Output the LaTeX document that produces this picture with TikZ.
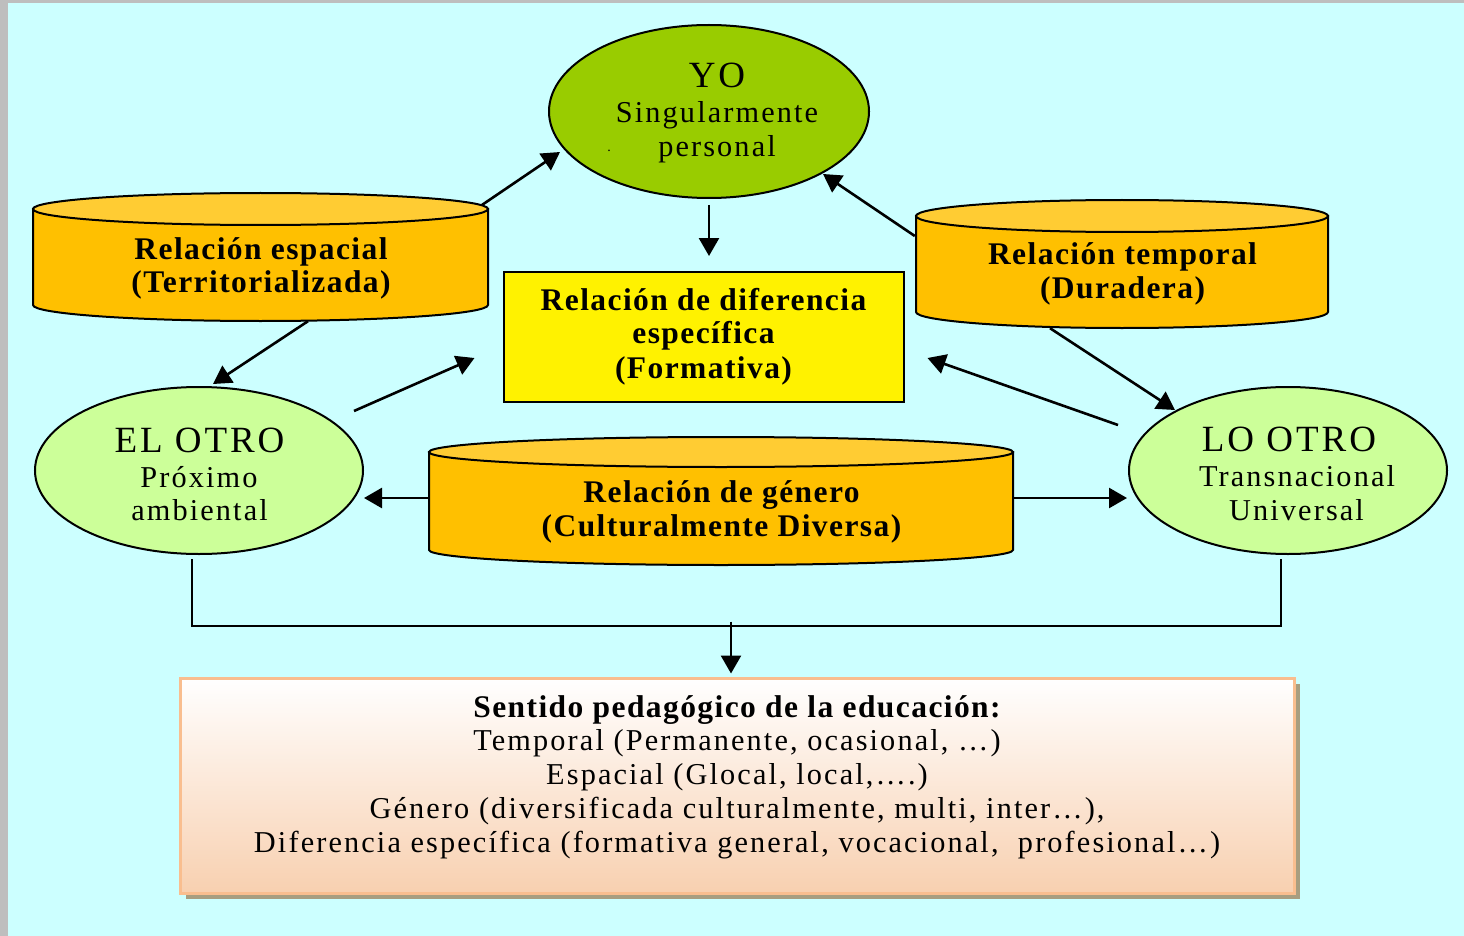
\documentclass[tikz,border=0pt]{standalone}
\usepackage{fontspec}
\setmainfont{Liberation Serif}[LetterSpace=7]
\newfontfamily\boldfam{Liberation Serif}[LetterSpace=4.5]
\newfontfamily\titlefam{Liberation Serif}[LetterSpace=8]
\usetikzlibrary{arrows.meta,calc,shapes.geometric}
\definecolor{bgcyan}{RGB}{204,255,255}
\definecolor{bggray}{RGB}{190,190,190}
\definecolor{yogreen}{RGB}{153,204,0}
\definecolor{otrogreen}{RGB}{204,255,153}
\definecolor{cylbody}{RGB}{255,192,0}
\definecolor{cyltop}{RGB}{255,204,51}
\definecolor{boxborder}{RGB}{249,190,143}
\definecolor{boxbottom}{RGB}{248,208,176}
\definecolor{boxshadow}{RGB}{168,158,128}
\tikzset{
  conn/.style={line width=2.6pt,-{Triangle[length=18pt,width=20pt]}},
  plainline/.style={line width=2.6pt},
  ell/.style={ellipse,draw=black,line width=2pt,inner sep=0pt},
  cylshape/.style={draw=black,line width=2pt,fill=cylbody},
  cylcap/.style={draw=black,line width=2pt,fill=cyltop},
  frame/.style={inner sep=0pt,minimum width=#1},
  bigtxt/.style={anchor=base,inner sep=0pt,font=\titlefam\fontsize{37}{37}\selectfont},
  txt/.style={anchor=base,inner sep=0pt,font=\fontsize{30.3}{34}\selectfont},
  btxt/.style={anchor=base,inner sep=0pt,font=\boldfam\bfseries\fontsize{31.5}{34}\selectfont},
}
\begin{document}
\begin{tikzpicture}[x=1pt,y=-1pt]
\useasboundingbox (0,0) rectangle (1464,936);
% background
\fill[bggray] (0,0) rectangle (1464,936);
\fill[bgcyan] (8,3) rectangle (1464,936);

% YO ellipse
\node[ell,fill=yogreen,minimum width=320pt,minimum height=173pt] (yo) at (709,111.5) {};
\node[bigtxt] (yoT) at (717,88) {YO};
\node[txt] (yoA) at (717,123) {Singularmente};
\node[txt] (yoB) at (717,157) {personal};
\node[anchor=base,inner sep=0pt,font=\fontsize{14}{14}\selectfont] (yoDot) at (609,152) {.};

% spatial cylinder
\filldraw[cylshape] (33,209) -- (33,305) arc[start angle=180,end angle=360,x radius=227.5pt,y radius=16pt] -- (488,209) -- cycle;
\filldraw[cylcap] (260.5,209) ellipse[x radius=227.5pt,y radius=16pt];
\node[frame=455pt,minimum height=128pt] (spat) at (260.5,257) {};
\node[btxt] (spatA) at (261,259) {Relación espacial};
\node[btxt] (spatB) at (261,292) {(Territorializada)};

% temporal cylinder
\filldraw[cylshape] (916,216) -- (916,312) arc[start angle=180,end angle=360,x radius=206pt,y radius=16pt] -- (1328,216) -- cycle;
\filldraw[cylcap] (1122,216) ellipse[x radius=206pt,y radius=16pt];
\node[frame=412pt,minimum height=128pt] (temp) at (1122,264) {};
\node[btxt] (tempA) at (1122.5,264) {Relación temporal};
\node[btxt] (tempB) at (1122.5,298) {(Duradera)};

% diferencia box
\node[draw=black,line width=2pt,fill=yellow,minimum width=400pt,minimum height=130pt,inner sep=0pt] (diff) at (703.5,337) {};
\node[btxt] (diffA) at (703.5,310) {Relación de diferencia};
\node[btxt] (diffB) at (703.5,343) {específica};
\node[btxt] (diffC) at (703.5,378) {(Formativa)};

% EL OTRO
\node[ell,fill=otrogreen,minimum width=328pt,minimum height=167pt] (elotro) at (199,470.5) {};
\node[bigtxt] (elT) at (199.5,452) {EL OTRO};
\node[txt] (elA) at (199,487) {Próximo};
\node[txt] (elB) at (199.5,520) {ambiental};

% LO OTRO
\node[ell,fill=otrogreen,minimum width=318pt,minimum height=167pt] (lootro) at (1288,470.5) {};
\node[bigtxt] (loT) at (1289,451) {LO OTRO};
\node[txt] (loA) at (1297,486) {Transnacional};
\node[txt] (loB) at (1296.5,520) {Universal};

% genero cylinder
\filldraw[cylshape] (429,452) -- (429,550) arc[start angle=180,end angle=360,x radius=292pt,y radius=15pt] -- (1013,452) -- cycle;
\filldraw[cylcap] (721,452) ellipse[x radius=292pt,y radius=15pt];
\node[frame=584pt,minimum height=128pt] (gen) at (721,501) {};
\node[btxt] (genA) at (721.5,502) {Relación de género};
\node[btxt] (genB) at (721.5,536) {(Culturalmente Diversa)};

% bottom box
\fill[boxshadow] (186,684) rectangle (1300,899);
\node[draw=boxborder,line width=3pt,top color=white,bottom color=boxbottom,minimum width=1114pt,minimum height=215pt,inner sep=0pt] (box) at (737,785.5) {};
\node[btxt] (boxA) at (737,717) {Sentido pedagógico de la educación:};
\node[txt] (boxB) at (737,750) {Temporal (Permanente, ocasional, …)};
\node[txt] (boxC) at (737,784) {Espacial (Glocal, local,….)};
\node[txt] (boxD) at (737,818) {Género (diversificada culturalmente, multi, inter…),};
\node[txt] (boxE) at (737,852) {Diferencia específica (formativa general, vocacional,\ \ profesional…)};

% connectors
\draw[conn] ($(spat.north east)+(-6,12)$) -- ($(yo.center)+(-149,40.5)$);
\draw[conn] ($(yo.south)+(0,6)$) -- ($(yo.south |- diff.north)+(0,-15)$);
\draw[conn] ($(temp.west)+(-1,-28)$) -- ($(yo.center)+(114,62.5)$);
\draw[conn] ($(spat.south)+(47.5,0)$) -- ($(elotro.north)+(14,-2)$);
\draw[conn] ($(elotro.center)+(155,-59.5)$) -- ($(diff.west)+(-28,21)$);
\draw[conn] ($(lootro.center)+(-170,-45.5)$) -- ($(diff.east)+(23,21)$);
\draw[conn] ($(temp.south)+(-72,0)$) -- ($(lootro.center)+(-113,-60.5)$);
\draw[conn] ($(gen.west)+(0,-3)$) -- ($(elotro.east)+(0,27.5)$);
\draw[conn] ($(gen.east)+(0,-3)$) -- ($(lootro.west)+(-1,27.5)$);
\draw[plainline] ($(elotro.south)+(-7,4)$) -- ($(elotro.south)+(-7,71)$) -- ($(lootro.south)+(-7,71)$) -- ($(lootro.south)+(-7,4)$);
\draw[conn] ($(box.north)+(-6,-55)$) -- ($(box.north)+(-6,-3)$);
\end{tikzpicture}
\end{document}
